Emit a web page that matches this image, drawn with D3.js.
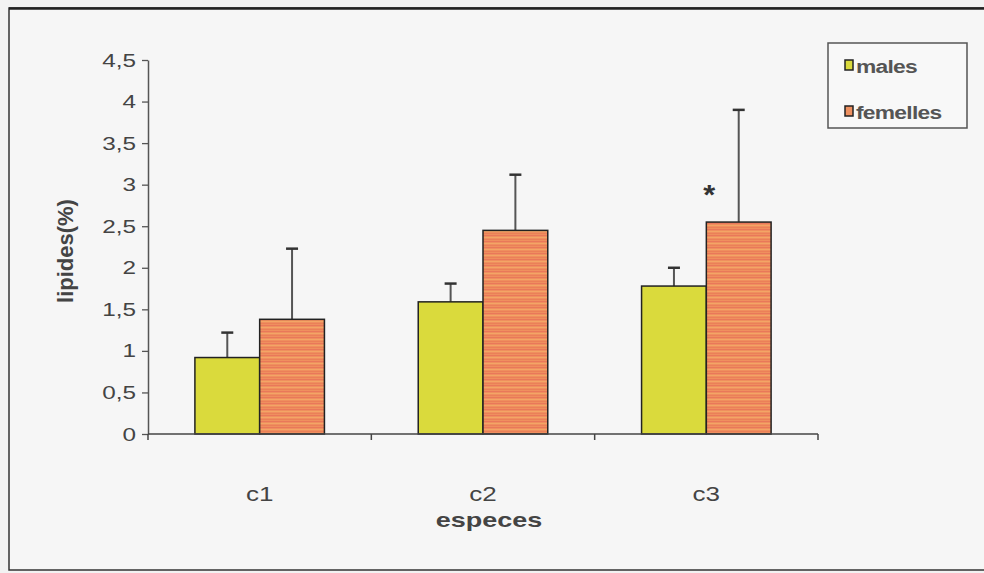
<!DOCTYPE html>
<html><head><meta charset="utf-8">
<script src="https://cdn.jsdelivr.net/npm/d3@7"></script>
<style>body{margin:0;background:#f4f4f4;}svg{display:block;}</style>
</head><body>
<svg id="c" width="984" height="573"></svg>
<script>
const categories = ["c1", "c2", "c3"];
const seriesNames = ["males", "femelles"];
const males = [0.92, 1.59, 1.78];
const malesErr = [0.30, 0.22, 0.22];
const femelles = [1.38, 2.45, 2.55];
const femellesErr = [0.85, 0.67, 1.35];
const yTicks = [0, 0.5, 1, 1.5, 2, 2.5, 3, 3.5, 4, 4.5];
const yTickLabels = ["0", "0,5", "1", "1,5", "2", "2,5", "3", "3,5", "4", "4,5"];
const significant = [false, false, true];

const FONT = "Liberation Sans, Arial, sans-serif";
const colors = {males: "#dada3c", femelles: "url(#stripes)"};
const legendColors = {males: "#dada3c", femelles: "#ee9060"};
const svg = d3.select("#c");

const defs = svg.append("defs");
const pat = defs.append("pattern").attr("id","stripes").attr("patternUnits","userSpaceOnUse")
  .attr("width",10).attr("height",6);
pat.append("rect").attr("width",10).attr("height",6).attr("fill","#ef8f5e");
pat.append("rect").attr("y",1).attr("width",10).attr("height",1).attr("fill","#e9785a");
pat.append("rect").attr("y",3).attr("width",10).attr("height",1).attr("fill","#f3a566");
pat.append("rect").attr("y",5).attr("width",10).attr("height",1).attr("fill","#eb8058");

svg.append("rect").attr("x",0).attr("y",0).attr("width",984).attr("height",573).attr("fill","#f2f2f2");
svg.append("rect").attr("x",9).attr("y",8).attr("width",990).attr("height",562)
  .attr("fill","#f6f6f6").attr("stroke","#333").attr("stroke-width",1.5);
svg.append("line").attr("x1",9).attr("x2",984).attr("y1",8.5).attr("y2",8.5).attr("stroke","#222").attr("stroke-width",2.5);

function stext(parent, x, y, str, size, sx, opts={}) {
  const g = parent.append("g").attr("transform",`translate(${x},${y})`);
  return g.append("text").attr("transform",`scale(${sx},1)`)
    .attr("text-anchor", opts.anchor || "middle")
    .attr("font-family", FONT).attr("font-size", size)
    .attr("font-weight", opts.bold ? "bold" : "normal")
    .attr("fill", opts.fill || "#444").text(str);
}

const m = {left:148, right:818, top:60, bottom:434};
const x = d3.scaleBand().domain(categories).range([m.left, m.right]).paddingInner(0.42).paddingOuter(0.21);
const x1 = d3.scaleBand().domain(seriesNames).range([0, x.bandwidth()]);
const y = d3.scaleLinear().domain([0, 4.5]).range([m.bottom, m.top]);

const data = categories.map((c,i)=>({c, vals:[
  {s:"males", v:males[i], e:malesErr[i]},
  {s:"femelles", v:femelles[i], e:femellesErr[i]}]}));

const g = svg.append("g");
const groups = g.selectAll("g.grp").data(data).join("g").attr("class","grp")
  .attr("transform", d=>`translate(${x(d.c)},0)`);
groups.selectAll("g.err").data(d=>d.vals).join("g").attr("class","err").each(function(d){
  const cx = x1(d.s) + x1.bandwidth()/2;
  const s = d3.select(this);
  s.append("line").attr("x1",cx).attr("x2",cx).attr("y1",y(d.v)).attr("y2",y(d.v+d.e)).attr("stroke","#555").attr("stroke-width",2);
  s.append("line").attr("x1",cx-6).attr("x2",cx+6).attr("y1",y(d.v+d.e)).attr("y2",y(d.v+d.e)).attr("stroke","#333").attr("stroke-width",2.5);
});
groups.selectAll("rect").data(d=>d.vals).join("rect")
  .attr("x", d=>x1(d.s)).attr("width", x1.bandwidth())
  .attr("y", d=>y(d.v)).attr("height", d=>y(0)-y(d.v))
  .attr("fill", d=>colors[d.s]).attr("stroke","#222").attr("stroke-width",1.5);

groups.filter((d,i)=>significant[i]).each(function(d){
  stext(d3.select(this), x1("femelles")+3, y(d.vals[1].v)-18, "*", 28, 1.1, {bold:true, fill:"#333"});
});

const yAxis = d3.axisLeft(y).tickValues(yTicks).tickFormat("").tickSize(6).tickSizeOuter(0);
const ya = svg.append("g").attr("transform",`translate(${m.left},0)`).call(yAxis);
ya.selectAll("line").attr("stroke","#555").attr("stroke-width",1.3);
ya.select(".domain").attr("stroke","#555").attr("stroke-width",1.5);
ya.selectAll(".tick").each(function(d,i){
  stext(d3.select(this), -12, 6, yTickLabels[i], 18, 1.35, {anchor:"end"});
});

const xa = svg.append("g").attr("transform",`translate(0,${m.bottom})`);
xa.append("line").attr("x1",m.left).attr("x2",m.right).attr("y1",0).attr("y2",0).attr("stroke","#444").attr("stroke-width",1.5);
const bounds = [m.left].concat(categories.map(c=>x(c)+x.bandwidth()+x.step()*x.paddingInner()/2));
bounds[bounds.length-1] = m.right;
xa.selectAll("line.t").data(bounds).join("line").attr("class","t")
  .attr("x1",d=>d).attr("x2",d=>d).attr("y1",0).attr("y2",6).attr("stroke","#444").attr("stroke-width",1.5);
categories.forEach(c=>stext(xa, x(c)+x.bandwidth()/2, 67, c, 20, 1.3));

stext(svg, (m.left+m.right)/2 + 6, 527, "especes", 20, 1.35, {bold:true});
svg.append("text").attr("transform","translate(73,251) rotate(-90)").attr("text-anchor","middle")
  .attr("font-family",FONT).attr("font-size",22).attr("font-weight","bold").attr("fill","#444").text("lipides(%)");

const lg = svg.append("g");
lg.append("rect").attr("x",828).attr("y",43).attr("width",139).attr("height",85).attr("fill","#f8f8f8").attr("stroke","#555").attr("stroke-width",1.5);
seriesNames.forEach((s,i)=>{
  const yy = 68 + i*46;
  lg.append("rect").attr("x",845).attr("y",yy-8).attr("width",8).attr("height",10).attr("fill",legendColors[s]).attr("stroke","#222").attr("stroke-width",1.5);
  stext(lg, 856, yy+5, s, 19, 1.2, {anchor:"start", bold:true, fill:"#555"}).attr("letter-spacing",-0.6);
});
</script>
</body></html>
